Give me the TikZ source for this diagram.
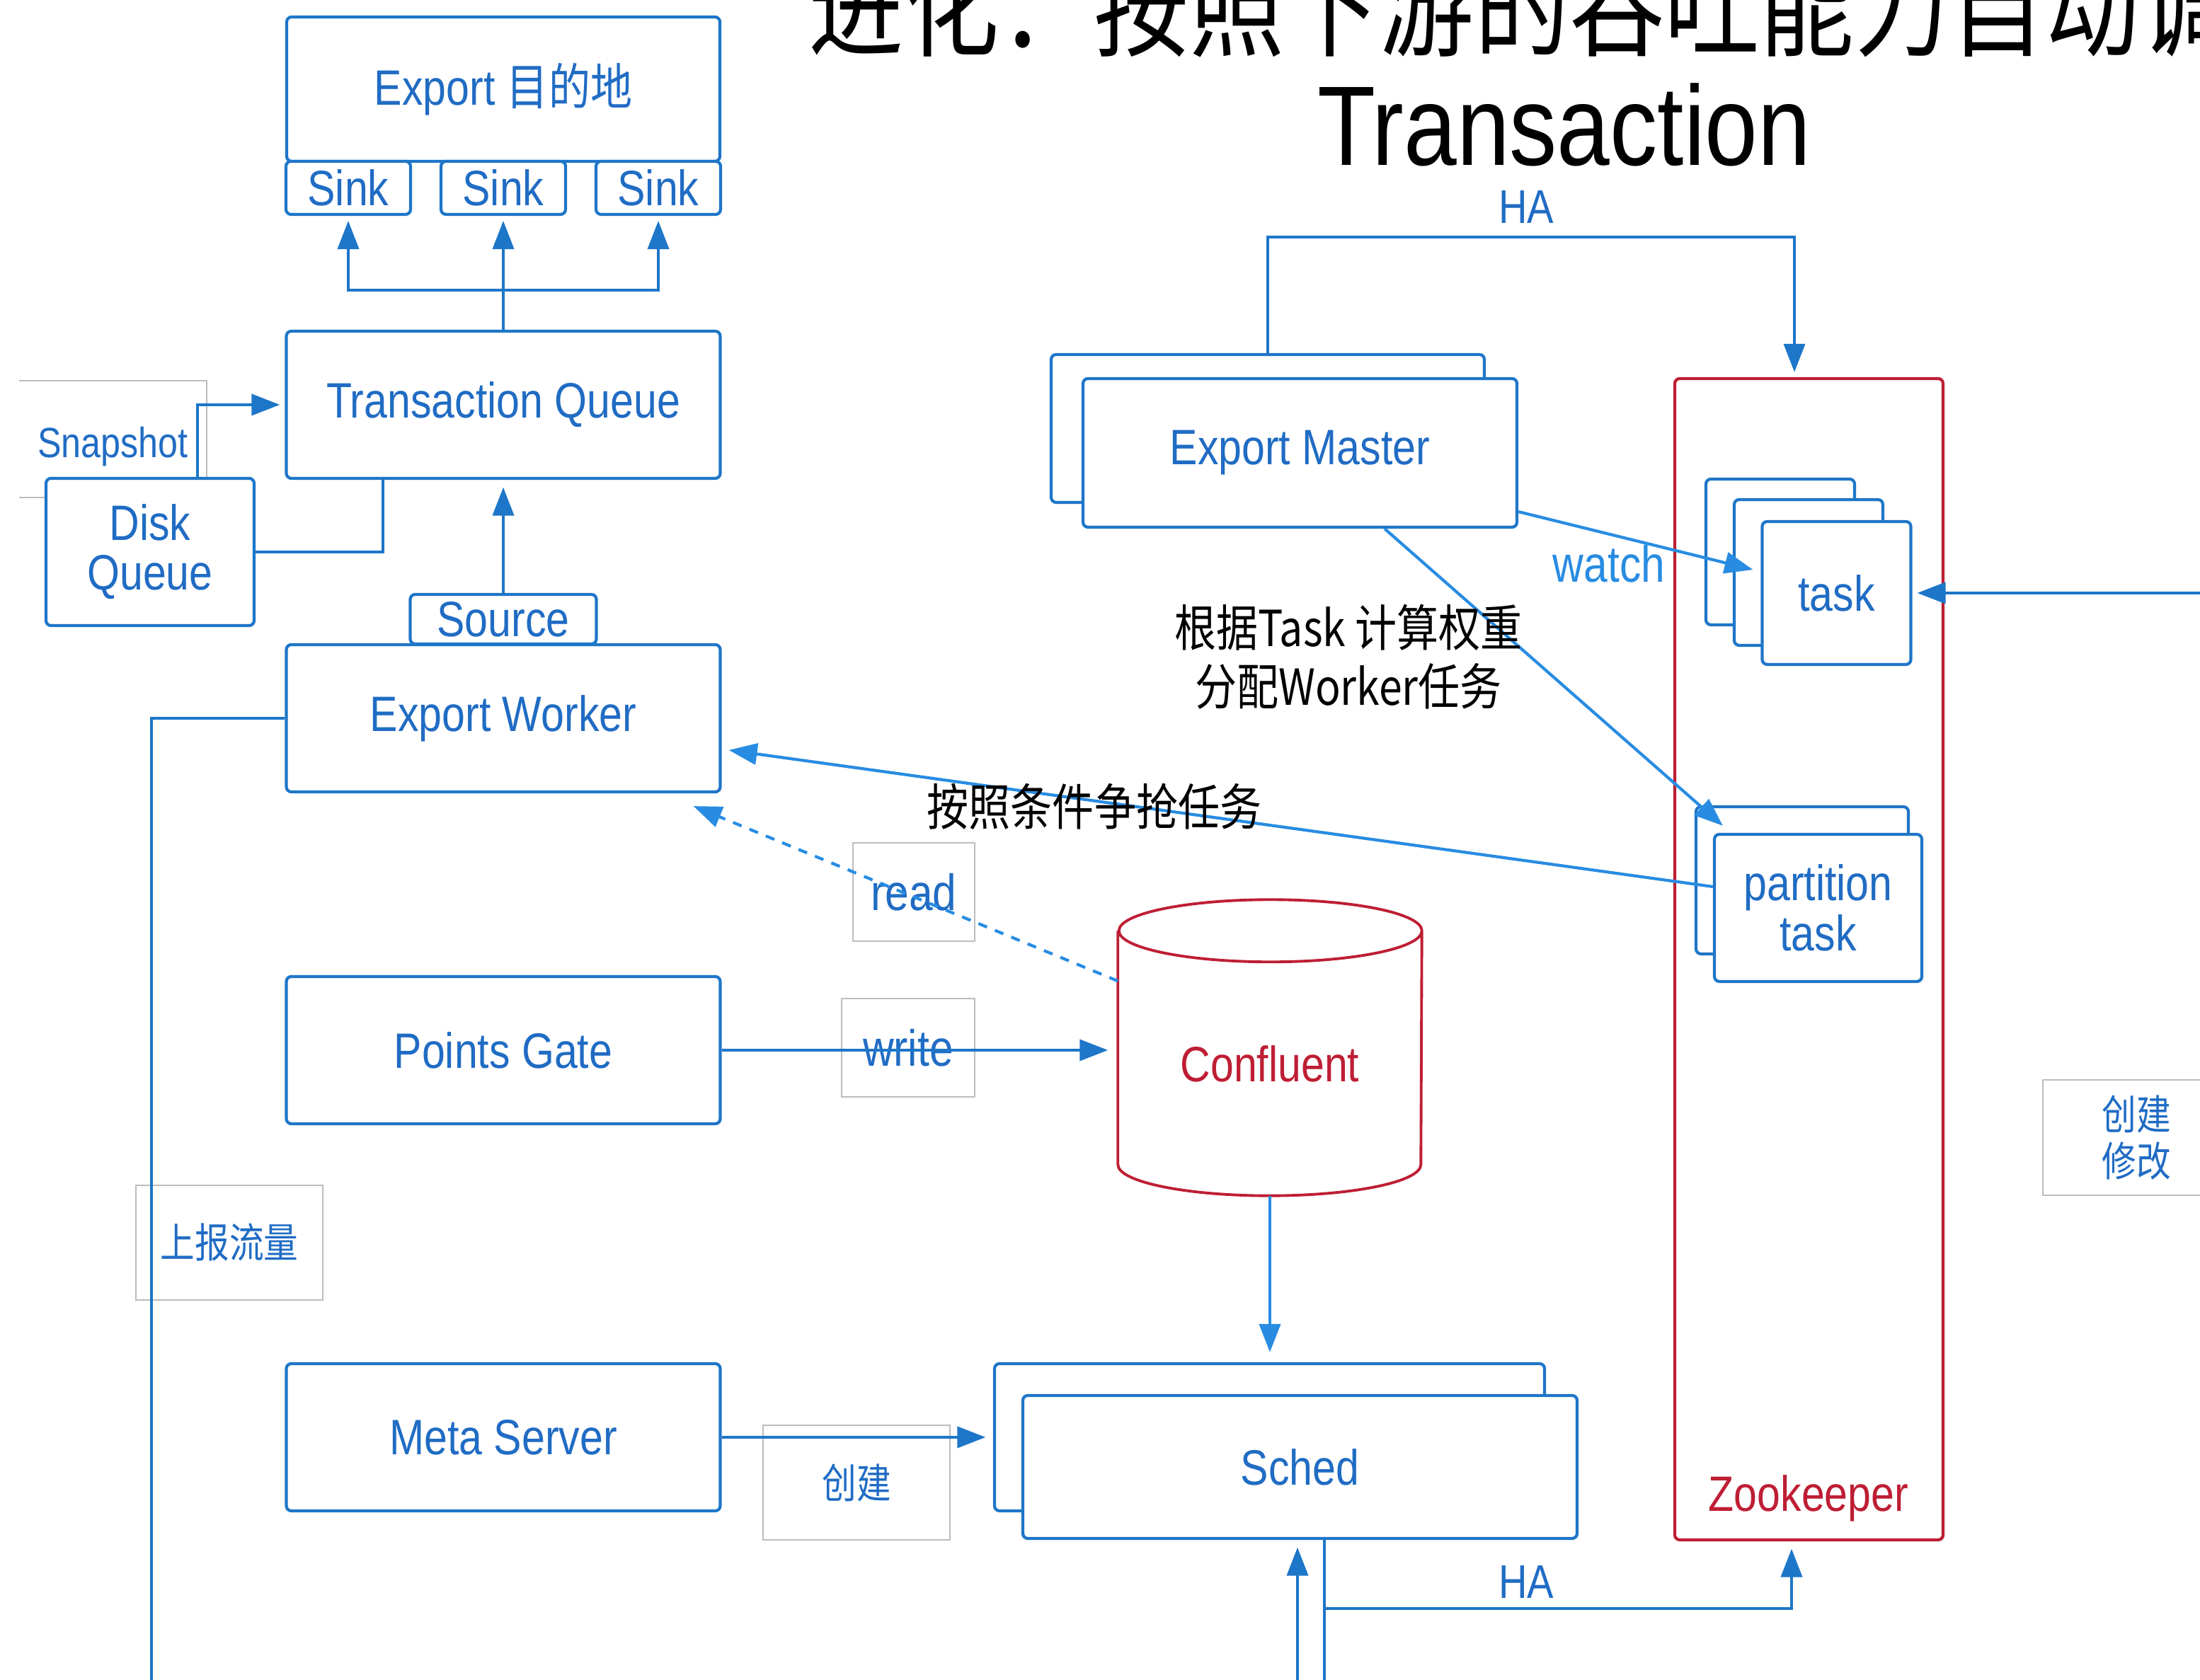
\documentclass[tikz,border=0pt]{standalone}
\usepackage{fontspec}
\setmainfont{Liberation Sans}
\newfontfamily\cjk{Noto Sans CJK SC}
\usetikzlibrary{arrows.meta,positioning,calc}

\definecolor{boxblue}{RGB}{30,118,200}
\definecolor{textblue}{RGB}{32,108,196}
\definecolor{lineblue}{RGB}{40,140,226}
\definecolor{zkred}{RGB}{190,30,52}
\definecolor{framegray}{RGB}{188,188,188}

\newcommand{\nar}[1]{\scalebox{0.84}[1]{#1}}

\tikzset{
  box/.style={draw=boxblue, line width=1.2pt, rounded corners=2pt, fill=white,
    text=textblue, font=\fontsize{20}{20}\selectfont, align=center,
    minimum width=6.13cm, minimum height=2.08cm, inner sep=0pt},
  conn/.style={draw=boxblue, line width=1.1pt},
  arr/.style={conn, -{Triangle[length=0.4cm,width=0.3cm]}},
  larr/.style={arr, draw=lineblue, line width=1.2pt},
  lblbox/.style={draw=framegray, line width=0.6pt, text=textblue, inner sep=0pt,
    font=\cjk\fontsize{16.5}{19}\selectfont, align=center},
  note/.style={text=black, inner sep=0pt, align=center,
    font=\cjk\fontsize{20}{23.6}\selectfont},
}

\begin{document}
\begin{tikzpicture}
    \useasboundingbox (0,0) rectangle (31.08,23.74);

    % title
    \node[anchor=base west, inner sep=0pt, font=\cjk\fontsize{45.5}{50}\selectfont] (title) at (11.42,23.06) {\nar{进化：按照下游的吞吐能力自动调}};
    \node[anchor=base, inner sep=0pt, font=\fontsize{45.5}{50}\selectfont] (subtitle) at (22.10,21.40) {\nar{Transaction}};

    % export side
    \node[box, minimum width=6.12cm, minimum height=2.04cm] (dest) at (7.11,22.48) {\nar{Export {\cjk 目的地}}};
    \foreach \i/\x in {1/4.92,2/7.11,3/9.30}
        \node[box, minimum width=1.76cm, minimum height=0.75cm] (sink\i) at (\x,21.085) {\nar{Sink}};
    \node[box] (tq) at (7.11,18.02) {\nar{Transaction Queue}};
    \foreach \i in {1,2,3}
        \draw[arr, shorten >=2pt] (tq.north) -- ++(0,0.56) -| (sink\i.south);

    \node[inner sep=0pt, minimum width=2.63cm, minimum height=1.63cm, text height=0.64cm, text=textblue, font=\fontsize{17}{17}\selectfont] (snap) at (1.595,17.535) {\nar{Snapshot}};
    \draw[draw=framegray, line width=0.6pt] (snap.north west) -- (snap.north east) -- (snap.south east) -- (snap.south west);
    \node[box, minimum width=2.94cm] (dq) at (2.12,15.94) {\nar{Disk}\\\nar{Queue}};
    \draw[conn] (dq.east) -| (5.41,0 |- tq.south);
    \draw[arr, shorten >=2pt] (2.79,0 |- dq.north) |- (tq.west);

    \node[box] (ew) at (7.11,13.59) {\nar{Export Worker}};
    \node[box, minimum width=2.63cm, minimum height=0.70cm] (src) at (7.11,14.99) {\nar{Source}};
    \draw[arr, shorten >=3pt] (src.north) -- (tq.south);

    \node[lblbox, minimum width=2.64cm, minimum height=1.62cm] (report) at (3.24,6.18) {\nar{上报流量}};
    \coordinate (reportout) at (2.14,-0.2);
    \draw[conn] (ew.west) -| (reportout);

    % points gate and confluent
    \node[box] (pg) at (7.11,8.90) {\nar{Points Gate}};
    \node[box] (ms) at (7.11,3.43) {\nar{Meta Server}};

    \node[inner sep=0pt, minimum width=4.28cm, minimum height=4.17cm, text height=0.97cm, text=zkred, font=\fontsize{20}{20}\selectfont] (conf) at (17.94,8.935) {\nar{Confluent}};
    \draw[draw=zkred, line width=1.1pt] ([yshift=-0.44cm]conf.north west) -- ([yshift=0.44cm]conf.south west)
        arc[start angle=180, end angle=360, x radius=2.14cm, y radius=0.44cm]
        -- ([yshift=-0.44cm]conf.north east)
        arc[start angle=0, end angle=180, x radius=2.14cm, y radius=0.44cm]
        arc[start angle=180, end angle=360, x radius=2.14cm, y radius=0.44cm];

    \node[lblbox, minimum width=1.88cm, minimum height=1.39cm, font=\fontsize{20.5}{20}\selectfont] (write) at (12.83,8.935) {\nar{write}};
    \draw[arr, shorten >=4pt] (pg.east) -- (pg.east -| conf.west);
    \node[lblbox, minimum width=1.72cm, minimum height=1.39cm, font=\fontsize{20.5}{20}\selectfont] (read) at (12.91,11.135) {\nar{read}};
    \draw[larr, dash pattern=on 0.13cm off 0.12cm] ([yshift=-1.15cm]conf.north west) -- ([xshift=-0.4cm,yshift=-0.18cm]ew.south east);

    % sched
    \node[box, minimum width=7.77cm, minimum height=2.08cm] (schedb) at (17.935,3.43) {};
    \node[box, minimum width=7.83cm, minimum height=2.02cm] (sched) at (18.365,3.01) {\nar{Sched}};
    \draw[larr, shorten >=4pt] (conf.south) -- (conf.south |- schedb.north);
    \node[lblbox, minimum width=2.64cm, minimum height=1.62cm] (create) at (12.10,2.79) {\nar{创建}};
    \draw[arr, shorten >=3pt] (ms.east) -- (ms.east -| schedb.west);

    % master and zookeeper
    \node[box, minimum width=6.12cm, minimum height=2.09cm] (emb) at (17.91,17.685) {};
    \node[box, minimum height=2.10cm] (em) at (18.365,17.34) {\nar{Export Master}};
    \node[draw=zkred, line width=1.2pt, rounded corners=2pt, minimum width=3.79cm, minimum height=16.41cm] (zk) at (25.555,10.185) {};
    \node[text=zkred, inner sep=0pt, font=\fontsize{20}{20}\selectfont] (zkname) at (25.55,2.57) {\nar{Zookeeper}};
    \draw[arr, shorten >=2pt] (emb.north) -- ++(0,1.64) -| (25.35,0 |- zk.north);
    \node[text=textblue, inner sep=0pt, font=\fontsize{19}{19}\selectfont] (hatop) at (21.56,20.81) {\nar{HA}};

    \foreach \i/\x/\y in {1/25.15/15.94,2/25.55/15.65}
        \node[box, minimum width=2.10cm, minimum height=2.06cm] (task\i) at (\x,\y) {};
    \node[box, minimum width=2.10cm, minimum height=2.02cm] (task3) at (25.945,15.36) {\nar{task}};
    \draw[larr] ([yshift=0.24cm]em.south east) -- ([xshift=-0.11cm,yshift=0.33cm]task3.west);
    \node[text=lineblue, inner sep=0pt, font=\fontsize{20.5}{20}\selectfont] (watch) at (22.73,15.77) {\nar{watch}};
    \coordinate (rightin) at (31.3,15.36);
    \draw[arr, shorten >=2pt] (rightin) -- (task3.east);

    \node[box, minimum width=3.00cm, minimum height=2.08cm] (ptb) at (25.46,11.30) {};
    \node[box, minimum width=2.93cm, minimum height=2.08cm] (pt) at (25.685,10.91) {\nar{partition}\\\nar{task}};
    \draw[larr] ([xshift=1.195cm]em.south) -- ([xshift=0.4cm,yshift=-0.29cm]ptb.north west);
    \node[note] (assign) at (19.05,14.46) {\nar{根据Task 计算权重}\\\nar{分配Worker任务}};
    \draw[larr] ([yshift=0.3cm]pt.west) -- ([xshift=0.1cm,yshift=-0.45cm]ew.east);
    \node[note] (grab) at (15.46,12.34) {\nar{按照条件争抢任务}};

    \node[lblbox, minimum width=2.64cm, minimum height=1.63cm, font=\cjk\fontsize{16.5}{19}\selectfont] (modify) at (30.18,7.665) {\nar{创建}\\\nar{修改}};

    % bottom links
    \coordinate (feedin) at (18.33,-0.2);
    \draw[arr, shorten >=3pt] (feedin) -- (18.33,0 |- sched.south);
    \coordinate (feedout) at (18.71,-0.2);
    \draw[conn] (18.71,0 |- sched.south) -- (feedout);
    \draw[arr, shorten >=3pt] (18.71,1.01) -| (25.31,0 |- zk.south);
    \node[text=textblue, inner sep=0pt, font=\fontsize{19}{19}\selectfont] (habottom) at (21.56,1.38) {\nar{HA}};
\end{tikzpicture}
\end{document}
